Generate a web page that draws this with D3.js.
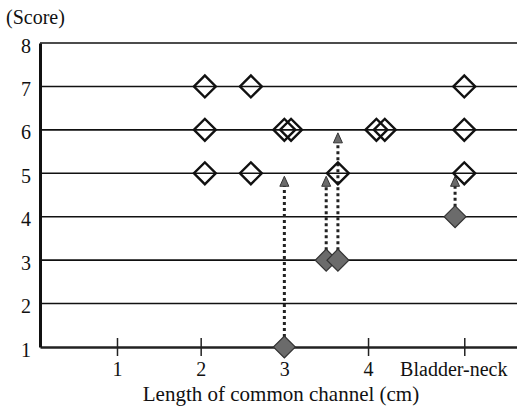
<!DOCTYPE html>
<html>
<head>
<meta charset="utf-8">
<script src="https://cdn.jsdelivr.net/npm/d3@7"></script>
<style>
  body { margin: 0; background: #fff; }
  svg text { font-family: "Liberation Serif", "Times New Roman", serif; fill: #111; }
</style>
</head>
<body>
<svg id="chart" width="517" height="413"></svg>
<script>
// x value used for the "Bladder-neck" category
var BLADDER = 5.15;

var xTickValues = [1, 2, 3, 4, BLADDER];
var xTickLabels = ["1", "2", "3", "4", "Bladder-neck"];
var yTickValues = [1, 2, 3, 4, 5, 6, 7, 8];

// scores after operation (open diamonds)
var afterX = [2.05, 2.6, BLADDER, 2.05, 3.0, 3.08, 4.1, 4.2, BLADDER, 2.05, 2.6, 3.64, BLADDER];
var afterY = [7, 7, 7, 6, 6, 6, 6, 6, 6, 5, 5, 5, 5];

// scores before (filled diamonds) and where they moved to
var beforeX = [3.0, 3.5, 3.64, 5.04];
var beforeY = [1, 3, 3, 4];
var movedTo = [5, 5, 6, 5];

var svg = d3.select("#chart");

var x = d3.scaleLinear().domain([0.08, 5.78]).range([40, 517]);
var y = d3.scaleLinear().domain([1, 8]).range([347, 43]);

// horizontal grid lines
svg.append("g")
    .selectAll("line")
    .data(yTickValues.filter(function (d) { return d > 1; }))
    .enter().append("line")
    .attr("x1", x.range()[0])
    .attr("x2", x.range()[1])
    .attr("y1", function (d) { return y(d); })
    .attr("y2", function (d) { return y(d); })
    .attr("stroke", "#111")
    .attr("stroke-width", 1.6);

// x axis
var xAxis = d3.axisBottom(x)
    .tickValues(xTickValues)
    .tickSizeInner(0)
    .tickSizeOuter(0)
    .tickFormat(function (d, i) { return xTickLabels[i]; });

var gx = svg.append("g")
    .attr("transform", "translate(0," + y(1) + ")")
    .call(xAxis);
gx.select(".domain").attr("stroke", "#222").attr("stroke-width", 2.4);
gx.selectAll(".tick line")
    .attr("y1", -9).attr("y2", 9)
    .attr("stroke", "#222").attr("stroke-width", 1.5);
gx.selectAll(".tick text")
    .attr("y", 29)
    .attr("dy", "0")
    .style("font-size", "20px")
    .attr("dx", function (d) { return d === BLADDER ? -11 : 0; });

// y axis
var yAxis = d3.axisLeft(y)
    .tickValues(yTickValues)
    .tickFormat(d3.format("d"))
    .tickSize(0)
    .tickPadding(9);

var gy = svg.append("g")
    .attr("transform", "translate(" + x.range()[0] + ",0)")
    .call(yAxis);
gy.select(".domain").attr("stroke", "#111").attr("stroke-width", 3);
gy.selectAll(".tick text")
    .style("font-size", "20px")
    .attr("dy", "0.45em");

// axis titles
svg.append("text")
    .attr("x", 6)
    .attr("y", 24)
    .style("font-size", "20px")
    .text("(Score)");

svg.append("text")
    .attr("x", 281)
    .attr("y", 401)
    .attr("text-anchor", "middle")
    .style("font-size", "21px")
    .text("Length of common channel (cm)");

var diamond = d3.symbol().type(d3.symbolSquare).size(240);

// dotted arrows
var arrows = svg.append("g");
beforeX.forEach(function (bx, i) {
    var tip = y(movedTo[i]) + 3;
    arrows.append("line")
        .attr("x1", x(bx))
        .attr("x2", x(bx))
        .attr("y1", y(beforeY[i]) - 10)
        .attr("y2", tip + 9)
        .attr("stroke", "#222")
        .attr("stroke-width", 3)
        .attr("stroke-dasharray", "3,3");
    arrows.append("path")
        .attr("d", "M" + x(bx) + "," + tip +
            "L" + (x(bx) + 4.5) + "," + (tip + 10) +
            "L" + (x(bx) - 4.5) + "," + (tip + 10) + "Z")
        .attr("fill", "#6b6b6b")
        .attr("stroke", "#333")
        .attr("stroke-width", 1);
});

// filled diamonds
svg.append("g")
    .selectAll("path")
    .data(beforeX)
    .enter().append("path")
    .attr("d", diamond)
    .attr("transform", function (d, i) {
        return "translate(" + x(d) + "," + y(beforeY[i]) + ") rotate(45)";
    })
    .attr("fill", "#6b6b6b")
    .attr("stroke", "#333")
    .attr("stroke-width", 1.2);

// open diamonds
svg.append("g")
    .selectAll("path")
    .data(afterX)
    .enter().append("path")
    .attr("d", diamond)
    .attr("transform", function (d, i) {
        return "translate(" + x(d) + "," + y(afterY[i]) + ") rotate(45)";
    })
    .attr("fill", "none")
    .attr("stroke", "#111")
    .attr("stroke-width", 2.4);
</script>
</body>
</html>
